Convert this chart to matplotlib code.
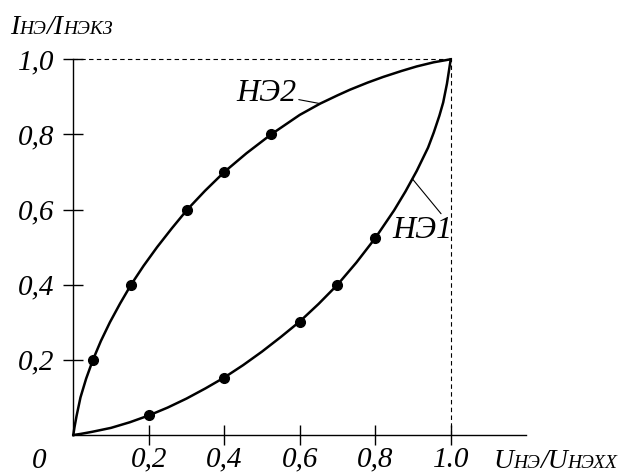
import matplotlib
matplotlib.use("Agg")
import matplotlib.pyplot as plt
from matplotlib.transforms import IdentityTransform

# ---- data ----
# НЭ1 curve (convex) and its marked points
ne1_x = [0, 0.02, 0.05, 0.1, 0.15, 0.2, 0.25, 0.3, 0.35, 0.4, 0.45, 0.5, 0.55, 0.6, 0.65, 0.7,
         0.75, 0.8, 0.85, 0.88, 0.91, 0.94, 0.955, 0.97, 0.98, 0.99, 1.0]
ne1_y = [0, 0.003, 0.0085, 0.019, 0.034, 0.052, 0.073, 0.097, 0.124, 0.153, 0.186, 0.222, 0.261,
         0.302, 0.349, 0.400, 0.459, 0.524, 0.598, 0.648, 0.703, 0.765, 0.805, 0.85, 0.885,
         0.935, 1.0]
ne1_pts_x = [0.2, 0.4, 0.6, 0.7, 0.8]
ne1_pts_y = [0.052, 0.153, 0.302, 0.4, 0.524]

# НЭ2 curve (concave) and its marked points
ne2_x = [0, 0.003, 0.0085, 0.019, 0.034, 0.052, 0.073, 0.097, 0.124, 0.153, 0.186, 0.222, 0.261,
         0.302, 0.349, 0.400, 0.459, 0.524, 0.6, 0.654, 0.7, 0.733, 0.78, 0.821, 0.87, 0.91,
         0.955, 1.0]
ne2_y = [0, 0.02, 0.05, 0.1, 0.15, 0.2, 0.25, 0.3, 0.35, 0.4, 0.45, 0.5, 0.55, 0.6, 0.65, 0.7,
         0.75, 0.8, 0.852, 0.882, 0.904, 0.919, 0.938, 0.953, 0.969, 0.981, 0.992, 1.0]
ne2_pts_x = [0.052, 0.153, 0.3, 0.4, 0.524]
ne2_pts_y = [0.2, 0.4, 0.6, 0.7, 0.8]

ticks = [0.2, 0.4, 0.6, 0.8, 1.0]
xtick_labels = ["0,2", "0,4", "0,6", "0,8", "1.0"]
ytick_labels = ["0,2", "0,4", "0,6", "0,8", "1,0"]

FONT = ["Liberation Serif", "DejaVu Serif"]
plt.rcParams["font.family"] = FONT
plt.rcParams["font.style"] = "italic"

fig = plt.figure(figsize=(6.33, 4.75), dpi=100)
ax = fig.add_axes([0.1158, 0.0842, 0.7155, 0.791])
ax.set_xlim(0, 1.2)
ax.set_ylim(0, 1.0)

ax.plot(ne1_x, ne1_y, color="black", lw=1.8, clip_on=False, solid_joinstyle="round")
ax.plot(ne2_x, ne2_y, color="black", lw=1.8, clip_on=False, solid_joinstyle="round")
ax.plot(ne1_pts_x, ne1_pts_y, "o", color="black", ms=7, clip_on=False)
ax.plot(ne2_pts_x, ne2_pts_y, "o", color="black", ms=7, clip_on=False)

# dashed frame to (1, 1)
ax.plot([0, 1], [1, 1], color="black", lw=0.8, ls=(0, (4, 3)), clip_on=False)
ax.plot([1, 1], [0, 1], color="black", lw=0.8, ls=(0, (4, 3)), clip_on=False)

for s in ["top", "right"]:
    ax.spines[s].set_visible(False)
ax.spines["left"].set_bounds(0, 1)
ax.spines["left"].set_linewidth(1.0)
ax.spines["bottom"].set_linewidth(1.0)

ax.set_xticks(ticks)
ax.set_xticklabels(xtick_labels)
ax.set_yticks(ticks)
ax.set_yticklabels(ytick_labels)
ax.tick_params(direction="inout", length=15, width=1.0, labelsize=21)
ax.tick_params(axis="x", pad=1)
ax.tick_params(axis="y", pad=6)
ax.text(-0.09, -0.068, "0", fontsize=21, ha="center", va="center")

# curve labels with leaders
ax.annotate("НЭ2", xy=(0.654, 0.882), xytext=(0.59, 0.909), fontsize=23,
            ha="right", va="center",
            arrowprops=dict(arrowstyle="-", color="black", lw=0.8, shrinkA=0, shrinkB=0))
ax.annotate("НЭ1", xy=(0.899, 0.681), xytext=(0.845, 0.543), fontsize=23,
            ha="left", va="center",
            arrowprops=dict(arrowstyle="-", color="black", lw=0.8, shrinkA=0, shrinkB=0,
                            relpos=(0.85, 1.0)))

# axis titles with small capitals
def rich_text(x, y, parts):
    renderer = fig.canvas.get_renderer()
    for s, size in parts:
        t = fig.text(x, y, s, fontsize=size, transform=IdentityTransform(),
                     ha="left", va="baseline")
        x += t.get_window_extent(renderer).width

big, small = 20, 14
rich_text(10, 475 - 34, [("I", big), ("НЭ", small), ("/I", big), ("НЭКЗ", small)])
rich_text(493, 475 - 468, [("U", big), ("НЭ", small), ("/U", big), ("НЭХХ", small)])

fig.savefig("out.png", dpi=100)
